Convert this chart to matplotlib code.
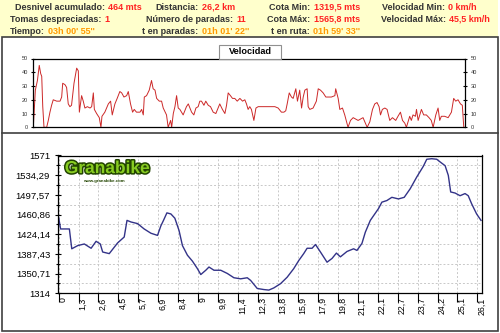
import matplotlib
matplotlib.use('Agg')
import matplotlib.pyplot as plt
import matplotlib.patheffects as pe
import matplotlib.transforms as mtransforms
from matplotlib.patches import Rectangle
from matplotlib.lines import Line2D
import numpy as np

plt.rcParams['font.family'] = ['Liberation Sans', 'DejaVu Sans']

W, H = 500, 333  # figure size in pixels

# ---- header summary ----
resumen_etiquetas = ['Desnivel acumulado:', 'Tomas despreciadas:', 'Tiempo:',
                     'Distancia:', 'Número de paradas:', 't en paradas:',
                     'Cota Min:', 'Cota Máx:', 't en ruta:',
                     'Velocidad Min:', 'Velocidad Máx:']
resumen_valores = ['464 mts', '1', "03h 00' 55''",
                   '26,2 km', '11', "01h 01' 22''",
                   '1319,5 mts', '1565,8 mts', "01h 59' 33''",
                   '0 km/h', '45,5 km/h']
resumen_tiempo = [False, False, True, False, False, True, False, False, True, False, False]

# ---- velocity profile (km/h vs sample) ----
vel_muestra = [0, 1.0, 2.0, 2.9, 3.6, 4.1, 4.6, 5.2, 6.5, 7.3, 8.1, 8.9, 9.7, 11.4, 13.0,
               13.8, 14.3, 15.4, 16.2, 17.0, 17.8, 18.6, 19.8, 21.1, 21.9, 22.4, 23.5,
               24.3, 25.1, 26.3, 27.6, 28.4, 29.2, 29.7, 30.8, 32.1, 32.9, 33.4, 34.8,
               36.5, 37.6, 38.4, 39.7, 40.8, 42.1, 43.0, 44.1, 45.4, 46.2, 47.3, 48.3,
               49.1, 50.2, 51.9, 52.7, 53.5, 54.0, 55.1, 56.4, 57.5, 58.3, 59.2, 60.0,
               61.3, 62.4, 63.2, 64.8, 65.6, 66.8, 67.3, 68.1, 68.9, 69.7, 70.5, 71.3,
               72.9, 74.5, 75.4, 76.2, 77.0, 78.1, 79.1, 80.2, 81.0, 81.8, 83.0, 83.9,
               85.1, 86.2, 87.5, 88.8, 89.9, 90.7, 92.0, 93.2, 94.0, 94.8, 95.9, 96.9,
               98.0, 99.2, 100.5, 101.8, 102.9, 103.7, 104.5, 105.3, 106.1, 107.3,
               108.3, 109.4, 111.8, 115.1, 117.5, 119.1, 120.7, 121.9, 122.8, 123.5,
               124.5, 125.6, 126.4, 127.7, 128.5, 129.6, 130.5, 131.3, 132.1, 133.2,
               133.7, 134.5, 136.1, 137.7, 138.6, 139.7, 141.0, 142.3, 143.4, 145.0,
               146.7, 147.1, 148.3, 149.1, 150.4, 151.5, 153.1, 154.3, 155.6, 158.0,
               160.4, 162.4, 163.7, 165.0, 166.1, 167.2, 168.2, 168.9, 169.8, 171.0,
               172.1, 173.4, 174.7, 176.3, 177.4, 178.6, 179.6, 180.7, 181.5, 182.3,
               183.1, 183.9, 184.7, 185.9, 186.4, 187.2, 188.0, 188.8, 189.9, 191.2,
               192.5, 193.6, 194.5, 195.8, 196.9, 197.7, 198.5, 200.1, 201.8, 203.4,
               204.5, 205.5, 206.6, 207.8, 208.7, 209.4]
vel_kmh = [0, 27, 34, 45, 39, 37, 15, 0, 0, 5, 11, 16, 20, 19, 19,
           22, 32, 31, 29, 17, 15, 16, 32, 43, 41, 11, 23,
           19, 14, 15, 14, 15, 25, 13, 10, 7, 0, 8, 11,
           17, 19, 9, 17, 21, 26, 25, 22, 23, 26, 17, 11,
           13, 11, 11, 13, 9, 22, 23, 27, 34, 28, 27, 21,
           19, 19, 14, 9, 0, 5, 0, 10, 15, 23, 14, 13,
           9, 15, 17, 14, 11, 9, 14, 15, 19, 19, 16, 19,
           16, 15, 11, 10, 14, 17, 13, 10, 16, 25, 23, 21,
           21, 19, 21, 19, 20, 17, 13, 15, 13, 5,
           14, 15, 15, 15, 15, 14, 11, 11, 12, 17,
           25, 22, 21, 28, 19, 27, 14, 22, 27, 28,
           15, 13, 14, 19, 28, 27, 25, 22, 22, 22,
           23, 28, 21, 13, 14, 9, 0, 5, 7, 5,
           7, 0, 4, 13, 17, 18, 15, 9, 13, 14,
           13, 5, 7, 5, 8, 11, 5, 3, 0, 4,
           8, 5, 9, 8, 13, 5, 9, 13, 9, 9,
           7, 5, 0, 9, 14, 5, 8, 8, 7, 11,
           21, 19, 20, 17, 16, 0]

# ---- elevation profile (m vs sample) ----
cota_muestra = [0, 1, 5.4, 6.6, 9.6, 12.9, 16.3, 18.8, 20.9, 22.1, 25.4, 29.6, 32.9, 34.3,
                36.3, 39.6, 42.9, 46.3, 49.6, 51.3, 52.6, 54.3, 56.3, 58.3, 60.4, 62.1,
                64.6, 67.1, 69.6, 71.3, 73.8, 75.4, 77.9, 81.3, 84.6, 87.9, 91.3, 94.6,
                96.3, 99.6, 102.9, 105.4, 107.9, 111.3, 114.6, 117.9, 120.4, 122.9,
                124.6, 127.1, 128.8, 131.3, 134.6, 137.1, 139.3, 141.3, 144.6, 147.9,
                149.6, 152.1, 153.8, 156.3, 160.4, 162.1, 164.6, 167.1, 170.4, 173.3,
                176.3, 179.6, 182.9, 184.6, 187.1, 189.6, 191.3, 193.8, 195.4, 196.6,
                198.8, 201.3, 203.8, 205.4, 207.1, 209.6, 211.8]
cota_m = [1456, 1434, 1434, 1397, 1403, 1406, 1398, 1411, 1406, 1391, 1388, 1408, 1419, 1450,
          1447, 1444, 1434, 1426, 1422, 1440, 1450, 1464, 1462, 1454, 1431, 1403,
          1385, 1374, 1360, 1349, 1357, 1363, 1357, 1357, 1351, 1343, 1341, 1343,
          1338, 1323, 1321, 1320, 1324, 1332, 1344, 1360, 1375, 1388,
          1398, 1398, 1405, 1391, 1372, 1379, 1389, 1382, 1392, 1397,
          1394, 1407, 1428, 1450, 1472, 1484, 1487, 1493, 1490, 1493,
          1509, 1531, 1551, 1564, 1565, 1564, 1559, 1552, 1534, 1503,
          1501, 1496, 1500, 1496, 1481, 1462, 1450]

dist_etiquetas = ['0', '1,3', '2,6', '4,5', '5,7', '6,9', '8,4', '9', '9,9', '11,4', '12,3',
                  '13,8', '15,9', '17,9', '19,8', '21,1', '22,1', '22,7', '23,7', '24,2',
                  '25,1', '26,1']
cota_ticks = [1314, 1350.71, 1387.43, 1424.14, 1460.86, 1497.57, 1534.29, 1571]
cota_etiquetas = ['1314', '1350,71', '1387,43', '1424,14', '1460,86', '1497,57', '1534,29', '1571']
vel_ticks = [0, 10, 20, 30, 40, 50]


def fx(px):
    return px / W


def fy(py):
    return 1 - py / H


fig = plt.figure(figsize=(W / 100, H / 100), dpi=100)
fig.patch.set_facecolor('white')

# header background
fig.patches.append(Rectangle((0, fy(36.5)), fx(498), 1 - fy(36.5), transform=fig.transFigure,
                             facecolor='#FFFFCC', edgecolor='none', zorder=0))

# header texts: label left x and row y (pixels); value follows its label
lab_x = [15, 10, 10, 155, 146, 142, 269, 267, 271, 382, 381]
row_y = [7, 19, 31, 7, 19, 31, 7, 19, 31, 7, 19]
for lab, val, t, lx, ry in zip(resumen_etiquetas, resumen_valores, resumen_tiempo,
                               lab_x, row_y):
    tl = fig.text(fx(lx), fy(ry), lab, fontsize=6.5, fontweight='bold', color='#333333',
                  ha='left', va='center')
    fig.add_artist(plt.Annotation(val, xy=(1, 0.5), xycoords=tl, xytext=(2.5, 0),
                                  textcoords='offset points', fontsize=6.5,
                                  fontweight='bold', color='#FF9900' if t else '#FF2222',
                                  ha='left', va='center'))

# panel frames
fig.patches.append(Rectangle((fx(1.5), fy(331)), fx(496.5), fy(36.5) - fy(331),
                             transform=fig.transFigure, facecolor='none',
                             edgecolor='#404040', linewidth=1.2, zorder=5))
fig.lines.append(Line2D([fx(1.5), fx(498)], [fy(132.5), fy(132.5)], transform=fig.transFigure,
                        color='#404040', linewidth=1.2, zorder=5))

# ---- velocity axes ----
axv = fig.add_axes([fx(33.3), fy(127.3), fx(465) - fx(33.3), fy(58.5) - fy(127.3)])
axv.plot(vel_muestra, vel_kmh, color='#CC2828', linewidth=0.7)
axv.set_xlim(0, 210)
axv.set_ylim(0, 50)
axv.set_xticks([])
axv.set_yticks(vel_ticks)
axv.tick_params(axis='y', which='both', left=True, right=True, labelleft=True, labelright=True,
                labelsize=4, labelcolor='#333333', length=3, pad=2.5, width=0.8)
axv.tick_params(axis='y', right=True, direction='inout')
for s in axv.spines.values():
    s.set_color('black')
    s.set_linewidth(0.9)

fig.patches.append(Rectangle((fx(219), fy(58.5)), fx(62), fy(45) - fy(58.5),
                             transform=fig.transFigure, facecolor='white',
                             edgecolor='#909090', linewidth=0.8, zorder=6))
fig.text(fx(250), fy(51.5), 'Velocidad', fontsize=6.6, fontweight='bold', color='black',
         ha='center', va='center', zorder=7)

# ---- elevation axes ----
axe = fig.add_axes([fx(58), fy(293.3), fx(482) - fx(58), fy(155.5) - fy(293.3)])
axe.plot(cota_muestra, cota_m, color='#333388', linewidth=1.0)
axe.set_xlim(-0.3, 212.3)
axe.set_ylim(1314, 1571)
axe.set_yticks(cota_ticks)
axe.set_yticklabels(cota_etiquetas)
axe.set_yticks([(a + b) / 2 for a, b in zip(cota_ticks[:-1], cota_ticks[1:])], minor=True)
xt = np.arange(len(dist_etiquetas)) * 10
axe.set_xticks(xt)
axe.set_xticklabels(dist_etiquetas, rotation=90, ha='left', va='top', fontsize=6.3)
offset = mtransforms.ScaledTranslation(1.5 / 100, 0, fig.dpi_scale_trans)
for lbl in axe.get_xticklabels():
    lbl.set_transform(lbl.get_transform() + offset)
axe.tick_params(axis='x', direction='out', length=6.5, width=0.8, pad=-3.6)
axe.tick_params(axis='y', which='major', direction='inout', length=5, width=0.8,
                labelsize=6.8, pad=3.2)
axe.tick_params(axis='y', which='minor', direction='inout', length=3, width=0.8)
axe.grid(True, axis='x', which='major', color='#C8C8C8', linestyle=(0, (2, 2)), linewidth=0.7)
axe.grid(True, axis='y', which='minor', color='#C8C8C8', linestyle=(0, (2, 2)), linewidth=0.7)
axe.set_axisbelow(True)
for s in axe.spines.values():
    s.set_color('black')
    s.set_linewidth(0.9)

# logo
axe.text(0.016, 0.905, 'Granabike', transform=axe.transAxes, fontsize=12.5,
         family=['Liberation Sans Narrow', 'Liberation Sans'], fontweight='bold',
         color='#88CC22', ha='left', va='center',
         path_effects=[pe.withStroke(linewidth=2.2, foreground='#224400')])
axe.text(0.06, 0.815, 'www.granabike.com', transform=axe.transAxes, fontsize=3.2,
         fontweight='bold', color='#224400', ha='left', va='center')

fig.savefig('out.png', dpi=100)
